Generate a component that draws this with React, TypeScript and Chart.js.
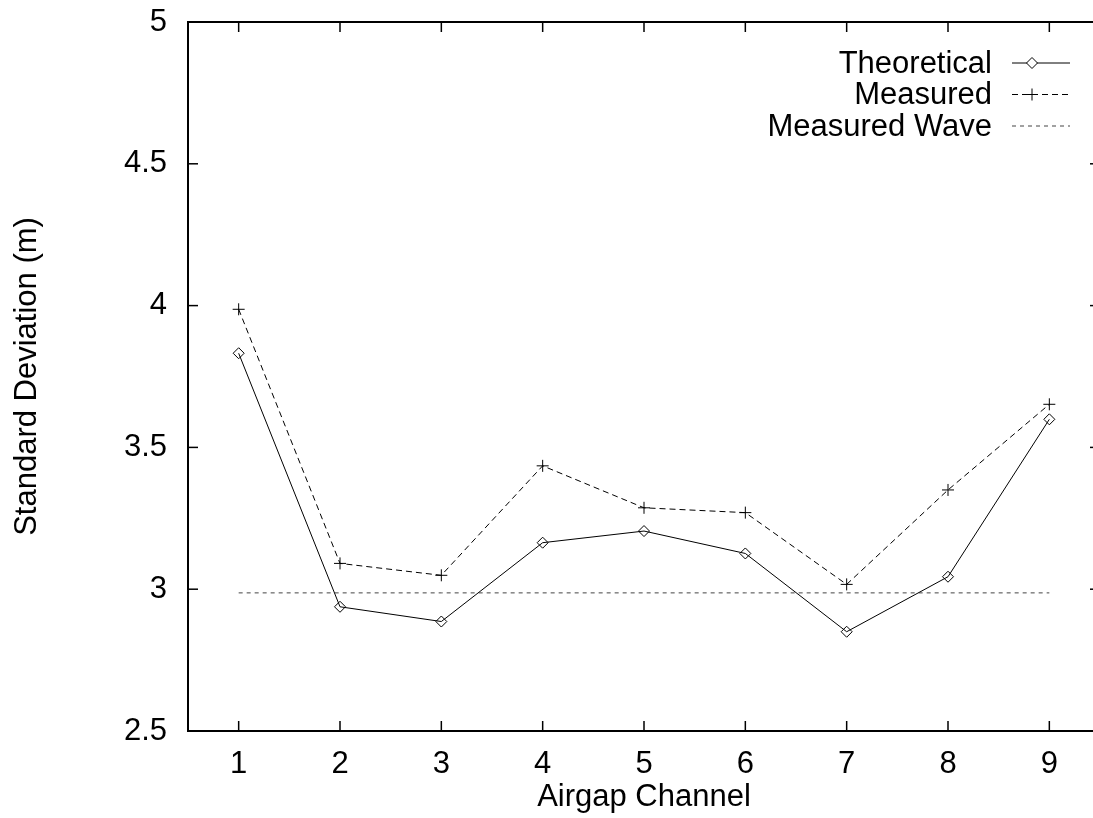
import React, { useEffect, useRef } from 'react';
import { Chart, registerables } from 'chart.js';

Chart.register(...registerables);

const channels = ['1', '2', '3', '4', '5', '6', '7', '8', '9'];
const theoretical = [3.832, 2.938, 2.886, 3.164, 3.205, 3.126, 2.85, 3.044, 3.599];
const measured = [3.987, 3.091, 3.049, 3.435, 3.287, 3.27, 3.017, 3.35, 3.652];
const measuredWave = [2.987, 2.987, 2.987, 2.987, 2.987, 2.987, 2.987, 2.987, 2.987];
const yTicks = [2.5, 3, 3.5, 4, 4.5, 5];
const seriesNames = ['Theoretical', 'Measured', 'Measured Wave'];
const xTitle = 'Airgap Channel';
const yTitle = 'Standard Deviation (m)';

const FONT = '"Liberation Sans", Arial, Helvetica, sans-serif';
const FS = 31;

const framePlugin = {
  id: 'frame',
  afterDraw(chart: any) {
    const { ctx, chartArea: a, scales } = chart;
    ctx.save();
    ctx.strokeStyle = '#000';
    ctx.setLineDash([]);
    ctx.lineWidth = 2;
    ctx.strokeRect(a.left, a.top, a.right - a.left, a.bottom - a.top);
    ctx.lineWidth = 1.5;
    const tl = 10;
    const line = (x1: number, y1: number, x2: number, y2: number) => {
      ctx.beginPath();
      ctx.moveTo(x1, y1);
      ctx.lineTo(x2, y2);
      ctx.stroke();
    };
    scales.x.ticks.forEach((_t: any, i: number) => {
      const px = scales.x.getPixelForTick(i);
      line(px, a.bottom, px, a.bottom - tl);
      line(px, a.top, px, a.top + tl);
    });
    scales.y.ticks.forEach((t: any) => {
      const py = scales.y.getPixelForValue(t.value);
      line(a.left, py, a.left + tl, py);
      line(a.right, py, a.right - tl, py);
    });

    // legend (text left of sample, gnuplot style)
    ctx.font = `${FS}px ${FONT}`;
    ctx.fillStyle = '#000';
    ctx.textAlign = 'right';
    ctx.textBaseline = 'middle';
    chart.data.datasets.forEach((ds: any, i: number) => {
      const y = a.top + 41 + i * 31.5;
      ctx.fillText(ds.label, a.right - 108, y + 1);
      ctx.strokeStyle = ds.borderColor;
      ctx.lineWidth = 1;
      ctx.setLineDash(ds.borderDash || []);
      line(a.right - 88, y, a.right - 30, y);
      ctx.setLineDash([]);
      ctx.strokeStyle = '#000';
      const mx = a.right - 68;
      const r = ds.pointRadius;
      if (ds.pointStyle === 'rectRot' && r > 0) {
        ctx.fillStyle = '#fff';
        ctx.beginPath();
        ctx.moveTo(mx - r, y);
        ctx.lineTo(mx, y - r);
        ctx.lineTo(mx + r, y);
        ctx.lineTo(mx, y + r);
        ctx.closePath();
        ctx.fill();
        ctx.stroke();
        ctx.fillStyle = '#000';
      } else if (ds.pointStyle === 'cross' && r > 0) {
        line(mx - r, y, mx + r, y);
        line(mx, y - r, mx, y + r);
      }
    });
    ctx.restore();
  },
};

export default function App() {
  const ref = useRef<HTMLCanvasElement | null>(null);

  useEffect(() => {
    if (!ref.current) return;
    Chart.defaults.font.family = FONT;
    Chart.defaults.color = '#000';
    const chart = new Chart(ref.current, {
      type: 'line',
      data: {
        labels: channels,
        datasets: [
          {
            label: seriesNames[0],
            data: theoretical,
            borderColor: '#000',
            borderWidth: 1,
            pointStyle: 'rectRot',
            pointRadius: 5.5,
            pointBorderWidth: 1,
            pointBackgroundColor: 'rgba(255,255,255,0)',
            pointBorderColor: '#000',
            tension: 0,
          },
          {
            label: seriesNames[1],
            data: measured,
            borderColor: '#000',
            borderWidth: 1,
            borderDash: [6, 4],
            pointStyle: 'cross',
            pointRadius: 6,
            pointBorderWidth: 1,
            pointBorderColor: '#000',
            tension: 0,
          },
          {
            label: seriesNames[2],
            data: measuredWave,
            borderColor: '#444',
            borderWidth: 1,
            borderDash: [4, 4],
            pointRadius: 0,
            tension: 0,
          },
        ],
      } as any,
      options: {
        responsive: false,
        animation: false,
        devicePixelRatio: 1,
        layout: { padding: { top: 22, right: 20, left: 0, bottom: 0 } },
        plugins: {
          legend: { display: false },
          tooltip: { enabled: false },
        },
        scales: {
          x: {
            type: 'category',
            offset: true,
            grid: { display: false, drawTicks: false },
            border: { display: false },
            ticks: { font: { size: FS }, padding: 15, maxRotation: 0, color: '#000' },
            title: { display: true, text: xTitle, font: { size: FS }, padding: { top: 0, bottom: 2 }, color: '#000' },
            afterFit: (s: any) => {
              s.height = 87;
              s.paddingLeft = 0;
              s.paddingRight = 0;
            },
          },
          y: {
            type: 'linear',
            min: 2.5,
            max: 5,
            grid: { display: false, drawTicks: false },
            border: { display: false },
            afterBuildTicks: (s: any) => {
              s.ticks = yTicks.map((v) => ({ value: v }));
            },
            ticks: {
              font: { size: FS },
              padding: 21,
              color: '#000',
              callback: (v: any) => String(v),
            },
            title: { display: true, text: yTitle, font: { size: FS }, padding: { top: 9, bottom: 0 }, color: '#000' },
            afterFit: (s: any) => {
              s.width = 188;
              s.paddingTop = 0;
              s.paddingBottom = 0;
            },
          },
        },
      } as any,
      plugins: [framePlugin],
    });
    return () => chart.destroy();
  }, []);

  return (
    <div
      style={{
        position: 'fixed',
        left: 0,
        top: 0,
        width: 1093,
        height: 818,
        overflow: 'hidden',
        background: '#fff',
      }}
    >
      <canvas ref={ref} width={1120} height={818} style={{ display: 'block', width: 1120, height: 818 }} />
    </div>
  );
}
